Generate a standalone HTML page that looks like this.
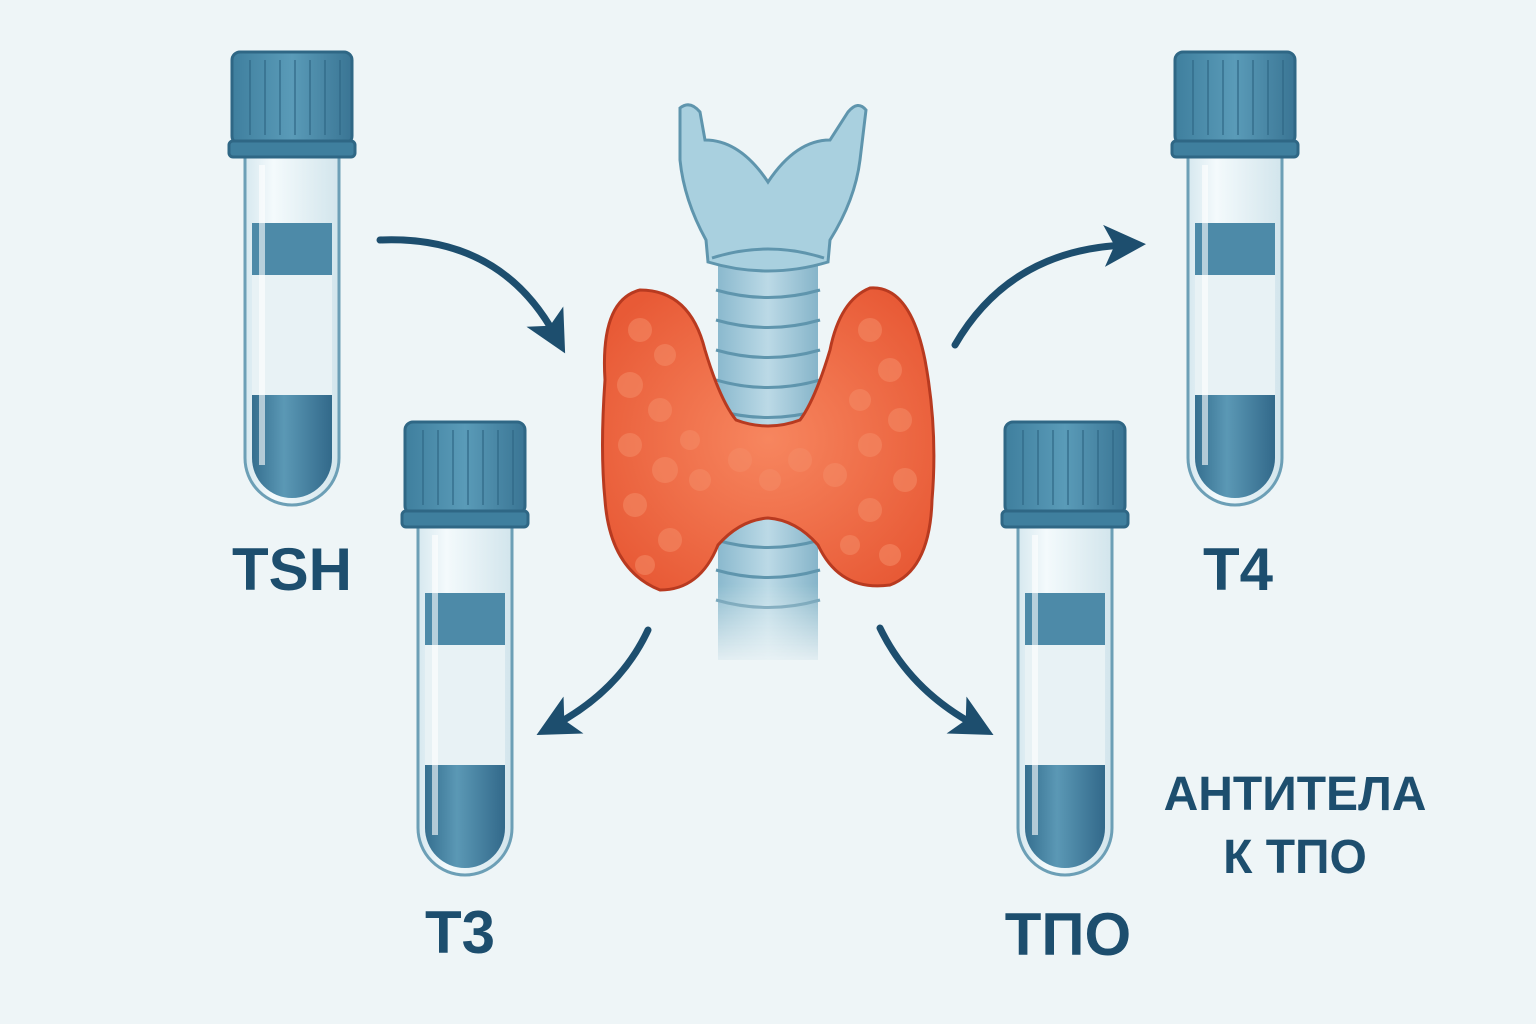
<!DOCTYPE html>
<html><head><meta charset="utf-8"><style>
html,body{margin:0;padding:0;background:#eef5f7;}
svg{display:block}
text{font-family:"Liberation Sans","Noto Sans CJK SC",sans-serif;font-weight:bold;fill:#1d4e6e}
</style></head><body>
<svg width="1536" height="1024" viewBox="0 0 1536 1024" xmlns="http://www.w3.org/2000/svg">
<defs>
<linearGradient id="cap" x1="0" x2="1"><stop offset="0" stop-color="#3f7f9e"/><stop offset="0.5" stop-color="#5a9bb8"/><stop offset="1" stop-color="#3a7594"/></linearGradient>
<linearGradient id="glass" x1="0" x2="1"><stop offset="0" stop-color="#d6e8ef"/><stop offset="0.3" stop-color="#f4fafc"/><stop offset="1" stop-color="#d2e5ec"/></linearGradient>
<linearGradient id="liq" x1="0" x2="1"><stop offset="0" stop-color="#356f8f"/><stop offset="0.4" stop-color="#5b98b5"/><stop offset="1" stop-color="#32698a"/></linearGradient>
<linearGradient id="tr" x1="0" x2="1"><stop offset="0" stop-color="#7fb3c9"/><stop offset="0.5" stop-color="#b6d7e4"/><stop offset="1" stop-color="#7aaec4"/></linearGradient>
<linearGradient id="trf" x1="0" y1="0" x2="0" y2="1"><stop offset="0.8" stop-color="#fff" stop-opacity="1"/><stop offset="1" stop-color="#fff" stop-opacity="0"/></linearGradient>
<mask id="fade"><rect x="700" y="240" width="140" height="430" fill="url(#trf)"/></mask>
<radialGradient id="gl" cx="0.5" cy="0.5" r="0.6"><stop offset="0" stop-color="#f7865f"/><stop offset="1" stop-color="#e85a36"/></radialGradient>
<marker id="ah" markerWidth="6" markerHeight="6" refX="3" refY="3" orient="auto" markerUnits="strokeWidth"><path d="M0,0 L6,3 L0,6 L1.5,3 Z" fill="#1d4e6e"/></marker>
<g id="tube">
<path d="M0,0 H94 V303 A47,47 0 0 1 0,303 Z" fill="url(#glass)" stroke="#6c9fb6" stroke-width="3"/>
<rect x="7" y="68" width="80" height="52" fill="#4d8aa8"/>
<rect x="7" y="120" width="80" height="120" fill="#e8f2f5"/>
<path d="M7,240 H87 V303 A40,40 0 0 1 7,303 Z" fill="url(#liq)"/>
<rect x="14" y="10" width="6" height="300" fill="#fff" opacity="0.6"/>
</g>
<g id="capg">
<rect x="-13" y="-103" width="120" height="92" rx="8" fill="url(#cap)" stroke="#2f6785" stroke-width="3"/>
<rect x="-16" y="-14" width="126" height="16" rx="4" fill="#3f7f9e" stroke="#2f6785" stroke-width="3"/>
<g stroke="#2f6785" stroke-width="2" opacity="0.6">
<line x1="5" y1="-95" x2="5" y2="-20"/><line x1="20" y1="-95" x2="20" y2="-20"/><line x1="35" y1="-95" x2="35" y2="-20"/><line x1="50" y1="-95" x2="50" y2="-20"/><line x1="65" y1="-95" x2="65" y2="-20"/><line x1="80" y1="-95" x2="80" y2="-20"/><line x1="95" y1="-95" x2="95" y2="-20"/>
</g>
</g>
</defs>

<g transform="translate(245,155)"><use href="#tube"/><use href="#capg"/></g>
<g transform="translate(418,525)"><use href="#tube"/><use href="#capg"/></g>
<g transform="translate(1018,525)"><use href="#tube"/><use href="#capg"/></g>
<g transform="translate(1188,155)"><use href="#tube"/><use href="#capg"/></g>

<g mask="url(#fade)">
<rect x="718" y="250" width="100" height="410" fill="url(#tr)" opacity="0.9"/>
<g stroke="#5f95ad" stroke-width="3" fill="none">
<path d="M716,290 Q768,305 820,290"/><path d="M716,320 Q768,335 820,320"/><path d="M716,350 Q768,365 820,350"/><path d="M716,380 Q768,395 820,380"/><path d="M716,410 Q768,425 820,410"/><path d="M716,540 Q768,555 820,540"/><path d="M716,570 Q768,585 820,570"/><path d="M716,600 Q768,615 820,600"/>
</g>
</g>
<path d="M680,108 Q690,100 700,112 L705,140 Q740,140 768,182 Q796,140 830,140 L848,112 Q858,100 866,110 L860,160 Q855,200 830,240 L828,262 Q768,280 708,262 L706,240 Q684,200 680,160 Z" fill="#a9d0df" stroke="#5f95ad" stroke-width="3"/>
<path d="M712,258 Q768,240 824,258" stroke="#5f95ad" stroke-width="3" fill="none"/>

<path d="M640,290 Q600,300 605,380 Q600,450 605,500 Q610,570 660,590 Q700,590 718,545 Q740,520 768,518 Q796,520 818,545 Q840,592 890,585 Q930,570 932,500 Q938,430 925,360 Q910,285 870,288 Q840,300 830,350 Q815,400 800,420 Q768,432 736,420 Q720,400 705,350 Q690,290 640,290 Z" fill="url(#gl)" stroke="#b83a20" stroke-width="3"/>
<g fill="#f58c67" opacity="0.55">
<circle cx="640" cy="330" r="12"/><circle cx="665" cy="355" r="11"/><circle cx="630" cy="385" r="13"/><circle cx="660" cy="410" r="12"/><circle cx="630" cy="445" r="12"/><circle cx="665" cy="470" r="13"/><circle cx="635" cy="505" r="12"/><circle cx="670" cy="540" r="12"/><circle cx="700" cy="480" r="11"/><circle cx="690" cy="440" r="10"/><circle cx="740" cy="460" r="12"/><circle cx="770" cy="480" r="11"/><circle cx="800" cy="460" r="12"/><circle cx="835" cy="475" r="12"/><circle cx="870" cy="330" r="12"/><circle cx="890" cy="370" r="12"/><circle cx="860" cy="400" r="11"/><circle cx="900" cy="420" r="12"/><circle cx="870" cy="445" r="12"/><circle cx="905" cy="480" r="12"/><circle cx="870" cy="510" r="12"/><circle cx="890" cy="555" r="11"/><circle cx="850" cy="545" r="10"/><circle cx="645" cy="565" r="10"/>
</g>

<g stroke="#1d4e6e" stroke-width="7" fill="none" stroke-linecap="round">
<path d="M380,240 Q500,235 555,335" marker-end="url(#ah)"/>
<path d="M955,345 Q1010,250 1125,245" marker-end="url(#ah)"/>
<path d="M648,630 Q620,690 555,725" marker-end="url(#ah)"/>
<path d="M880,628 Q910,690 975,725" marker-end="url(#ah)"/>
</g>

<text x="292" y="590" font-size="60" text-anchor="middle">TSH</text>
<text x="460" y="953" font-size="60" text-anchor="middle">T3</text>
<text x="1068" y="955" font-size="60" text-anchor="middle">ТПО</text>
<text x="1238" y="590" font-size="60" text-anchor="middle">Т4</text>
<text x="1295" y="810" font-size="48" text-anchor="middle">АНТИТЕЛА</text>
<text x="1295" y="873" font-size="48" text-anchor="middle">К ТПО</text>
</svg>
</body></html>
